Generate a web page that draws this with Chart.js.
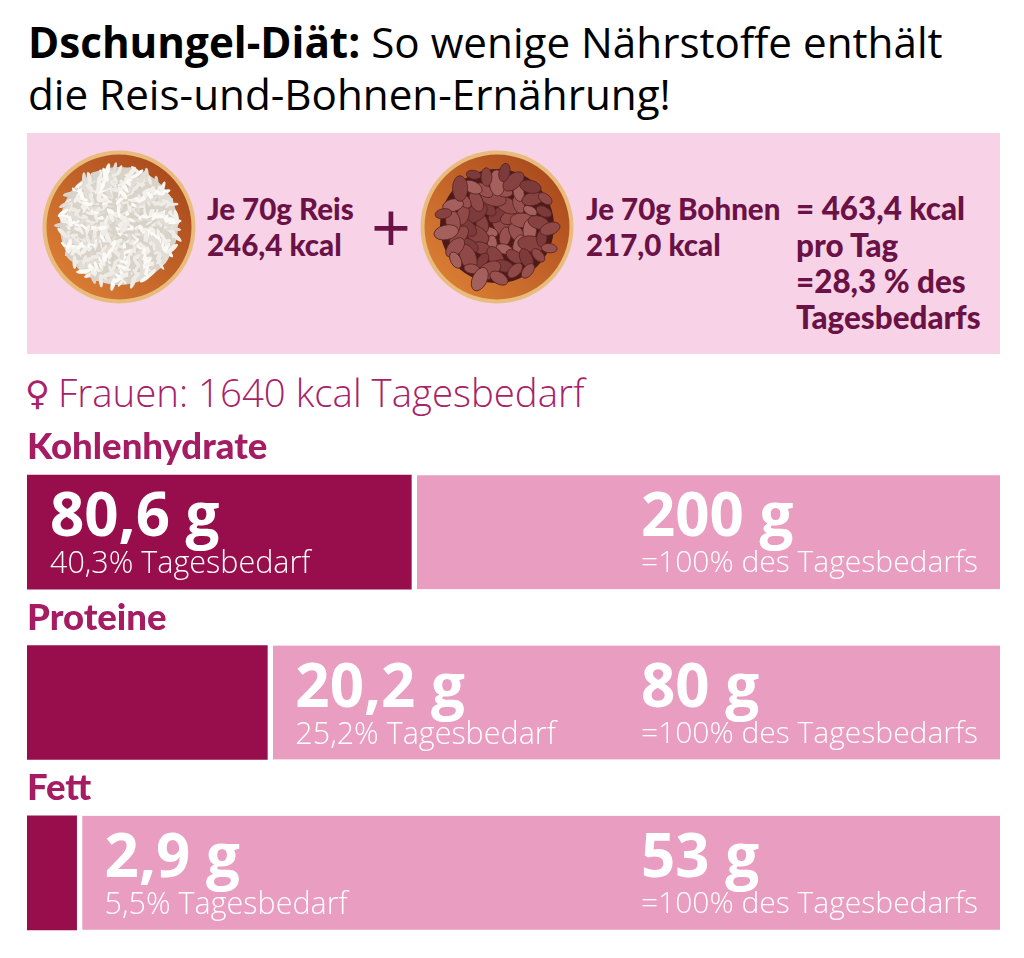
<!DOCTYPE html>
<html lang="de">
<head>
<meta charset="utf-8">
<title>Dschungel-Diät</title>
<script src="https://cdn.jsdelivr.net/npm/chart.js@4"></script>
<style>
  html, body { margin: 0; padding: 0; background: #fff; }
  #page { position: relative; width: 1024px; height: 958px; overflow: hidden; font-family: "Open Sans", sans-serif; }
  .t { position: absolute; white-space: nowrap; line-height: 1; }
  #box { position: absolute; left: 27px; top: 133px; width: 973px; height: 221px; background: #f8d2e6; }
  #chartWrap { position: absolute; left: 27px; top: 447px; width: 973px; height: 511px; }
  canvas.bowl { position: absolute; top: 148px; width: 158px; height: 158px; }
  .head { font-size: 42.2px; color: #000; left: 28px; }
  .food { font-family: Lato, sans-serif; font-weight: 900; font-size: 29.5px; color: #6a1245; }
  .sum { font-size: 31.4px; }
  .cat { font-family: Lato, sans-serif; font-weight: 900; font-size: 36.5px; color: #a51c63; }
  .big { font-family: "Open Sans", sans-serif; font-weight: 700; font-size: 60px; color: #fff; }
  .small { font-family: "Open Sans", sans-serif; font-weight: 300; font-size: 30.5px; color: #fff; }
  .note { font-size: 30px; }
</style>
</head>
<body>
<div id="page">
  <div class="t head" style="top:21px"><b>Dschungel-Diät:</b> So wenige Nährstoffe enthält</div>
  <div class="t head" style="top:73px">die Reis-und-Bohnen-Ernährung!</div>
  <div id="box"></div>
  <canvas class="bowl" id="rice" width="158" height="158" style="left:39.5px"></canvas>
  <canvas class="bowl" id="beans" width="158" height="158" style="left:418px"></canvas>
  <div class="t food" style="left:207px;top:194px">Je 70g Reis</div>
  <div class="t food" style="left:207px;top:230px">246,4 kcal</div>
  <div class="t" style="left:371px;top:191px;font-size:70px;font-weight:400;color:#6a1245">+</div>
  <div class="t food" style="left:586px;top:194px">Je 70g Bohnen</div>
  <div class="t food" style="left:586px;top:230px">217,0 kcal</div>
  <div class="t food sum" style="left:796px;top:193px">= 463,4 kcal</div>
  <div class="t food sum" style="left:796px;top:230px">pro Tag</div>
  <div class="t food sum" style="left:796px;top:266px">=28,3 % des</div>
  <div class="t food sum" style="left:796px;top:302px">Tagesbedarfs</div>
  <div class="t" style="left:25px;top:376px;font-size:34px;color:#a8226a;font-family:'DejaVu Sans'">♀</div>
  <div class="t" style="left:58px;top:373px;font-size:38.4px;font-weight:300;color:#a8226a">Frauen: 1640 kcal Tagesbedarf</div>
  <div id="chartWrap"><canvas id="chart"></canvas></div>
</div>
<script>
// bar lengths in % of the full bar
var nutrients = ['Kohlenhydrate', 'Proteine', 'Fett'];
var eatenBar = [39.5, 24.7, 5.1];
var restBar = [60.5, 75.3, 94.9];
var eatenGrams = ['80,6 g', '20,2 g', '2,9 g'];
var eatenShare = ['40,3% Tagesbedarf', '25,2% Tagesbedarf', '5,5% Tagesbedarf'];
var dailyGrams = ['200 g', '80 g', '53 g'];
var dailyNote = '=100% des Tagesbedarfs';

var chart = new Chart(document.getElementById('chart'), {
    type: 'bar',
    data: {
        labels: nutrients,
        datasets: [
            {label: 'Aufnahme', data: eatenBar, backgroundColor: '#980e4d', barThickness: 114},
            {
                label: 'Tagesbedarf', data: restBar, backgroundColor: '#e99dc1', barThickness: 114,
                borderColor: '#ffffff', borderWidth: {left: 6, right: 0, top: 0, bottom: 0}, borderSkipped: false
            }
        ]
    },
    options: {
        indexAxis: 'y',
        responsive: true,
        maintainAspectRatio: false,
        animation: false,
        layout: {padding: 0},
        plugins: {legend: {display: false}, tooltip: {enabled: false}},
        scales: {
            x: {display: false, stacked: true, min: 0, max: 100},
            y: {display: false, stacked: true}
        }
    }
});

function addText(cls, text, left, top) {
    var el = document.createElement('div');
    el.className = 't ' + cls;
    el.textContent = text;
    el.style.left = left + 'px';
    el.style.top = top + 'px';
    document.getElementById('page').appendChild(el);
}

// labels hang off the scales so they follow the bars
nutrients.forEach(function (name, i) {
    var left = 27 + chart.scales.x.getPixelForValue(eatenBar[i]);
    var mid = 447 + chart.scales.y.getPixelForValue(i);
    var textLeft = i === 0 ? 50 : left + 28;
    addText('cat', name, 27, mid - 105);
    addText('big', eatenGrams[i], textLeft, mid - 49);
    addText('small', eatenShare[i], textLeft, mid + 14);
    addText('big', dailyGrams[i], 641, mid - 49);
    addText('small note', dailyNote, 641, mid + 14);
});

// bowl illustrations, decoration only
function jitter(n) {
    var v = Math.sin(n * 12.9898) * 43758.5453;
    return v - Math.floor(v);
}

function drawBowl(id, spot, mound, count, rx, ry, colors, edge) {
    var ctx = document.getElementById(id).getContext('2d');
    var c = 79;
    var g = ctx.createLinearGradient(20, 140, 140, 20);
    g.addColorStop(0, '#dc8035');
    g.addColorStop(1, '#a8481c');
    ctx.beginPath();
    ctx.arc(c, c, 76.5, 0, Math.PI * 2);
    ctx.fillStyle = '#e8bc7c';
    ctx.fill();
    ctx.beginPath();
    ctx.arc(c, c, 72.5, 0, Math.PI * 2);
    ctx.fillStyle = g;
    ctx.fill();
    ctx.beginPath();
    ctx.arc(c, c - 1, mound, 0, Math.PI * 2);
    ctx.fillStyle = spot;
    ctx.fill();
    for (var i = 0; i < count; i++) {
        var r = Math.sqrt((i + 0.5) / count) * mound;
        var a = i * 2.39996;
        var size = 0.7 + jitter(i + 1) * 0.6;
        ctx.save();
        ctx.translate(c + Math.cos(a) * r, c - 1 + Math.sin(a) * r);
        ctx.rotate(jitter(i + 50) * Math.PI);
        ctx.beginPath();
        ctx.ellipse(0, 0, rx * size, ry * size, 0, 0, Math.PI * 2);
        ctx.fillStyle = colors[i % colors.length];
        ctx.fill();
        if (edge) {
            ctx.strokeStyle = edge;
            ctx.lineWidth = 0.8;
            ctx.stroke();
        }
        ctx.restore();
    }
}

drawBowl('rice', '#d6cfc6', 59, 460, 6, 1.9, ['#f4f1ec', '#fbfaf7', '#e2ddd6', '#efebe6', '#d9d3ca'], null);
drawBowl('beans', '#4e1a18', 57, 64, 10.5, 6.2, ['#8f4a48', '#a4605c', '#7c3a3a', '#97524f', '#864240'], '#5c2222');
</script>
</body>
</html>
